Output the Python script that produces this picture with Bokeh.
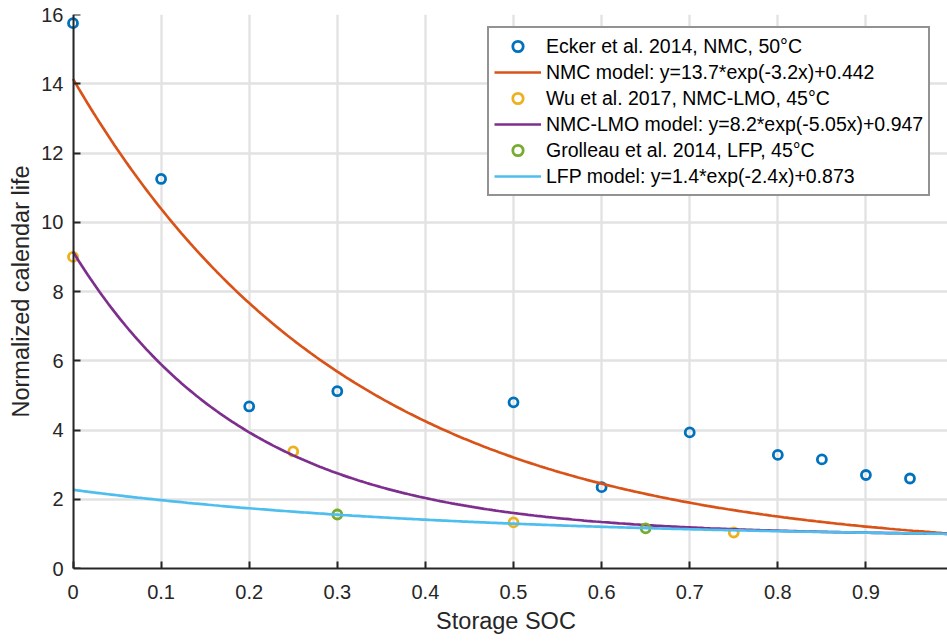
import numpy as np
from bokeh.plotting import figure
from bokeh.models import (Legend, LegendItem, FixedTicker, BoxAnnotation, Range1d,
                          LinearAxis)
from bokeh.embed import file_html
from bokeh.resources import INLINE

# ---- data ----
ecker_soc = [0, 0.1, 0.2, 0.3, 0.5, 0.6, 0.7, 0.8, 0.85, 0.9, 0.95]
ecker_life = [15.75, 11.25, 4.68, 5.12, 4.80, 2.35, 3.93, 3.28, 3.15, 2.70, 2.60]
wu_soc = [0, 0.25, 0.5, 0.75]
wu_life = [9.0, 3.38, 1.33, 1.04]
grol_soc = [0.3, 0.65]
grol_life = [1.56, 1.16]

model_names = ["NMC model: y=13.7*exp(-3.2x)+0.442",
               "NMC-LMO model: y=8.2*exp(-5.05x)+0.947",
               "LFP model: y=1.4*exp(-2.4x)+0.873"]
model_a = [13.7, 8.2, 1.4]
model_b = [-3.2, -5.05, -2.4]
model_c = [0.442, 0.947, 0.873]

data_names = ["Ecker et al. 2014, NMC, 50°C",
              "Wu et al. 2017, NMC-LMO, 45°C",
              "Grolleau et al. 2014, LFP, 45°C"]

x_ticks = [0, 0.1, 0.2, 0.3, 0.4, 0.5, 0.6, 0.7, 0.8, 0.9]
x_tick_labels = ["0", "0.1", "0.2", "0.3", "0.4", "0.5", "0.6", "0.7", "0.8", "0.9"]
y_ticks = [0, 2, 4, 6, 8, 10, 12, 14, 16]

data_colors = ["#0072BD", "#EDB120", "#77AC30"]
model_colors = ["#D95319", "#7E2F8E", "#4DBEEE"]

FONT = "Liberation Sans"
TXT = "#262626"

p = figure(width=947, height=641, output_backend="svg", toolbar_location=None,
           x_range=Range1d(-0.00965, 0.9926), y_range=Range1d(0, 16),
           min_border_left=64, min_border_right=0, min_border_top=14,
           min_border_bottom=73)
p.outline_line_color = None
p.background_fill_color = "white"

# grid
for g in (p.xgrid, p.ygrid):
    g.grid_line_color = "#e2e2e2"
    g.grid_line_alpha = 1.0
    g.grid_line_width = 2.3
p.xgrid.ticker = FixedTicker(ticks=x_ticks)
p.ygrid.ticker = FixedTicker(ticks=y_ticks)

# cover grid left of x=0
p.add_layout(BoxAnnotation(right=0, fill_color="white", fill_alpha=1.0,
                           line_color=None, level="underlay"))

# x axis
xa = p.xaxis[0]
xa.ticker = FixedTicker(ticks=x_ticks)
xa.major_label_overrides = {t: l for t, l in zip(x_ticks, x_tick_labels)}
xa.bounds = (0, 1)

# default y axis: labels only
ya = p.yaxis[0]
ya.ticker = FixedTicker(ticks=y_ticks)
ya.axis_line_color = None
ya.major_tick_line_color = None
ya.major_tick_in = 0
ya.major_tick_out = 0

# y axis line + ticks at x = 0 (no labels of its own)
ya2 = LinearAxis(ticker=FixedTicker(ticks=y_ticks), fixed_location=0)
ya2.major_label_text_color = None
ya2.major_label_standoff = 0
p.add_layout(ya2, "left")

for ax in (xa, ya2):
    ax.axis_line_color = TXT
    ax.axis_line_width = 2
    ax.major_tick_line_color = TXT
    ax.major_tick_line_width = 2
    ax.major_tick_in = 7
    ax.major_tick_out = 0
for ax in (xa, ya, ya2):
    ax.minor_tick_line_color = None
for ax in (xa, ya):
    ax.major_label_text_font = FONT
    ax.major_label_text_font_size = "20px"
    ax.major_label_text_color = TXT
    ax.axis_label_text_font = FONT
    ax.axis_label_text_font_size = "23.5px"
    ax.axis_label_text_font_style = "normal"
    ax.axis_label_text_color = TXT
xa.axis_label = "Storage SOC"
ya.axis_label = "Normalized calendar life"
xa.major_label_standoff = 16
xa.axis_label_standoff = 6
ya.major_label_standoff = 1
ya.axis_label_standoff = 4

# glyphs
xs = np.linspace(0, 1, 301)
data_sets = [(ecker_soc, ecker_life), (wu_soc, wu_life), (grol_soc, grol_life)]
items = []
for i in range(3):
    sx, sy = data_sets[i]
    r_pts = p.scatter(sx, sy, marker="circle", size=9, fill_color=None,
                      line_color=data_colors[i], line_width=2.8)
    ys = model_a[i] * np.exp(model_b[i] * xs) + model_c[i]
    r_line = p.line(xs, ys, line_color=model_colors[i], line_width=2.7)
    items.append(LegendItem(label=data_names[i], renderers=[r_pts]))
    items.append(LegendItem(label=model_names[i], renderers=[r_line]))

legend = Legend(items=items, location=(423, 372))
legend.label_text_font = FONT
legend.label_text_font_size = "19.5px"
legend.label_text_color = "black"
legend.glyph_width = 47
legend.glyph_height = 26
legend.label_height = 26
legend.spacing = 0
legend.padding = 5
legend.margin = 0
legend.label_standoff = 5
legend.border_line_color = TXT
legend.border_line_width = 2
legend.background_fill_color = "white"
legend.background_fill_alpha = 1.0
p.add_layout(legend, "center")

open("out.html", "w").write(file_html(p, INLINE))
